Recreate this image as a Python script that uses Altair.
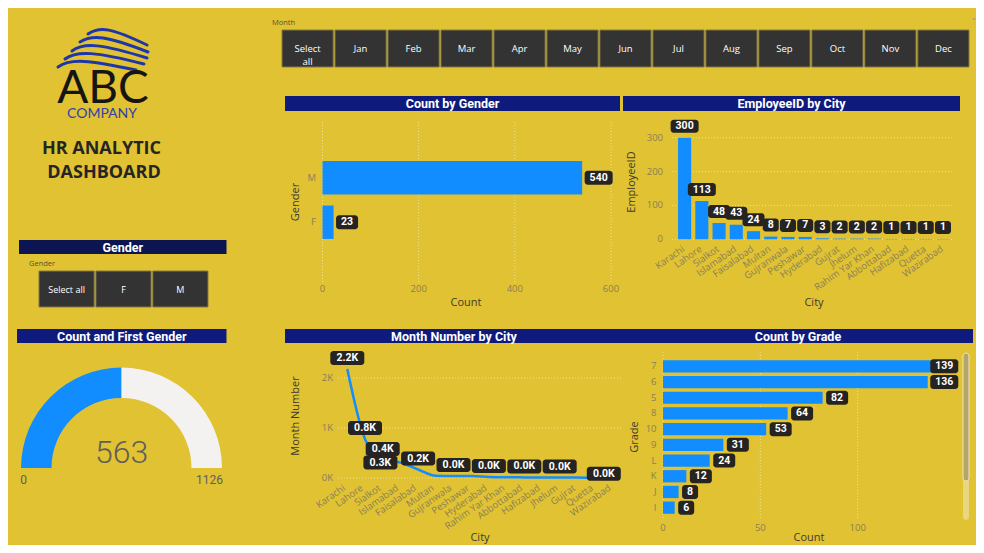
import altair as alt
import pandas as pd

# ---------------- values ----------------
month_buttons = ["Select all", "Jan", "Feb", "Mar", "Apr", "May", "Jun",
                 "Jul", "Aug", "Sep", "Oct", "Nov", "Dec"]
gender_buttons = ["Select all", "F", "M"]

gender_cats = ["M", "F"]
gender_counts = [540, 23]
gender_ticks = [0, 200, 400, 600]

emp_cities = ["Karachi", "Lahore", "Sialkot", "Islamabad", "Faisalabad", "Multan",
              "Gujranwala", "Peshawar", "Hyderabad", "Gujrat", "Jhelum",
              "Rahim Yar Khan", "Abbottabad", "Hafizabad", "Quetta", "Wazirabad"]
emp_counts = [300, 113, 48, 43, 24, 8, 7, 7, 3, 2, 2, 2, 1, 1, 1, 1]
emp_ticks = [0, 100, 200, 300]

month_cities = ["Karachi", "Lahore", "Sialkot", "Islamabad", "Faisalabad", "Multan",
                "Gujranwala", "Peshawar", "Hyderabad", "Rahim Yar Khan", "Abbottabad",
                "Hafizabad", "Jhelum", "Gujrat", "Quetta", "Wazirabad"]
month_sums = [2180, 780, 360, 310, 170, 45, 38, 40, 22, 15, 12, 9, 10, 8, 5, 4]
month_ticks = [0, 1000, 2000]
month_label_above = ["Karachi", "Lahore", "Sialkot", "Faisalabad", "Gujranwala",
                     "Hyderabad", "Abbottabad", "Jhelum"]
month_label_left = ["Islamabad"]
month_label_end = ["Wazirabad"]

grades = ["7", "6", "5", "8", "10", "9", "L", "K", "J", "I"]
grade_counts = [139, 136, 82, 64, 53, 31, 24, 12, 8, 6]
grade_ticks = [0, 50, 100]

gauge_value = 563
gauge_max = 1126

# ---------------- style ----------------
BG = "#E0C232"
NAVY = "#0E1B7C"
NAVY_DARK = "#0A1552"
BLUE = "#118DFF"
BOX = "#252423"
BTN = "#333333"
BTN_EDGE = "#857A45"
TICK = "#8A8058"
AXT = "#3E3A2F"
GRID = "#EEE2A0"
FONT = "Roboto"
UI = "Open Sans"

O = 8  # page margin


def P(v):
    return v - O


one = pd.DataFrame({"k": [0]})


def txt(s, x, y, size, color, weight="normal", align="center", baseline="middle",
        angle=0, font=UI):
    d = pd.DataFrame({"t": [s]})
    kw = dict(font=font, fontSize=size, color=color, fontWeight=weight,
              align=align, baseline=baseline)
    if angle:
        kw["angle"] = angle
    return alt.Chart(d).mark_text(**kw).encode(
        x=alt.value(P(x)), y=alt.value(P(y)), text="t:N")


def rect(x0, x1, y0, y1, color, **kw):
    return alt.Chart(one).mark_rect(color=color, **kw).encode(
        x=alt.value(P(x0)), x2=alt.value(P(x1)), y=alt.value(P(y0)), y2=alt.value(P(y1)))


def title_bar(s, x0, x1, y0, y1, color=NAVY):
    return [rect(x0, x1, y0, y1, color),
            txt(s, (x0 + x1) / 2, (y0 + y1) / 2 + 0.5, 12.5, "white", "bold", font=FONT)]


def box_w(n):
    return 10 + 6 * n


def hlabels(df, cat, val, xs, ys, pos_expr=None, off=3.5, h=14):
    out = []
    pos_expr = pos_expr or f"datum.{val}"
    for n in sorted({len(str(v)) for v in df[val]}):
        w = box_w(n)
        base = (alt.Chart(df)
                .transform_calculate(lbl=f"toString(datum.{val})", p=pos_expr)
                .transform_filter(f"length(datum.lbl) == {n}"))
        X = alt.X("p:Q", scale=xs, axis=None)
        Y = alt.Y(f"{cat}:N", scale=ys, axis=None)
        out.append(base.mark_bar(color=BOX, cornerRadius=3, height=h, xOffset=off,
                                 x2Offset=off + w).encode(x=X, x2=alt.X2("p"), y=Y))
        out.append(base.mark_text(font=FONT, fontSize=10.5, fontWeight="bold", color="white",
                                  dx=off + w / 2, baseline="middle")
                   .encode(x=X, y=Y, text="lbl:N"))
    return out


def vlabels(df, cat, val, xs, ys, lbl_expr, lengths, y0, y1, xo=0, names=None):
    out = []
    for n in lengths:
        w = box_w(n)
        base = alt.Chart(df).transform_calculate(lbl=lbl_expr)
        if names is not None:
            base = base.transform_filter(alt.FieldOneOfPredicate(field=cat, oneOf=names))
        base = base.transform_filter(f"length(datum.lbl) == {n}")
        X = alt.X(f"{cat}:N", scale=xs, axis=None)
        Y = alt.Y(f"{val}:Q", scale=ys, axis=None)
        out.append(base.mark_bar(color=BOX, cornerRadius=3, width=w, xOffset=xo,
                                 yOffset=y0, y2Offset=y1)
                   .encode(x=X, y=Y, y2=alt.Y2(val)))
        out.append(base.mark_text(font=FONT, fontSize=10.5, fontWeight="bold", color="white",
                                  baseline="middle", xOffset=xo, yOffset=(y0 + y1) / 2)
                   .encode(x=X, y=Y, text="lbl:N"))
    return out


layers = []

# ---------------- logo + title ----------------
wave_paths = []
cx, cy, half = 103.0, 49.0, 46.0
for sx, sy, ex, ey, crest in [(88, 34, 147, 45, 29), (80, 42, 148, 52, 37),
                              (72, 51, 147, 58, 45), (65, 59, 144, 64, 53),
                              (58, 67, 136, 70, 61)]:
    pts = [(sx, sy), (sx + 12, crest - 3), (sx + 0.4 * (ex - sx), crest - 1), (ex, ey)]
    n = [((x - cx) / half, (y - cy) / half) for x, y in pts]
    wave_paths.append("M{:.3f},{:.3f}C{:.3f},{:.3f} {:.3f},{:.3f} {:.3f},{:.3f}".format(
        *[c for p in n for c in p]))
layers.append(alt.Chart(one).mark_point(shape=" ".join(wave_paths), filled=False,
                                        stroke="#1F36A8", strokeWidth=3, opacity=1,
                                        size=(2 * half) ** 2, strokeCap="round")
              .encode(x=alt.value(P(cx)), y=alt.value(P(cy))))
layers.append(txt("ABC", 103, 102.5, 46, "#151515", baseline="alphabetic", font="Lato"))
layers.append(txt("COMPANY", 102, 118, 14, "#2F40B0", baseline="alphabetic", font="Lato"))
layers.append(txt("HR ANALYTIC", 101.5, 148.5, 18, "#252525", "bold"))
layers.append(txt("DASHBOARD", 104, 172.5, 18, "#252525", "bold"))

# ---------------- month slicer ----------------
layers.append(txt("Month", 272, 23, 7.5, "#5A5230", align="left"))
layers.append(txt("\u02c5", 974, 22, 9, "#9A9070", font="DejaVu Sans"))
mdf = pd.DataFrame({"m": month_buttons})
mx = alt.X("m:N", sort=month_buttons, axis=None,
           scale=alt.Scale(domain=month_buttons, range=[P(282), P(969)],
                           paddingInner=0.033, paddingOuter=0))
layers.append(alt.layer(
    alt.Chart(mdf).mark_rect(color=BTN, stroke=BTN_EDGE, strokeWidth=1)
    .encode(x=mx, y=alt.value(P(30)), y2=alt.value(P(67))),
    alt.Chart(mdf).mark_text(font=UI, fontSize=9.5, color="white", lineBreak=" ",
                             lineHeight=13, baseline="middle")
    .encode(x=mx, y=alt.value(P(49)), text="m:N"),
))

# ---------------- gender slicer ----------------
layers += title_bar("Gender", 19, 226.5, 240, 254, NAVY_DARK)
layers.append(txt("Gender", 29, 264, 7.5, "#5A5230", align="left"))
gbdf = pd.DataFrame({"g": gender_buttons})
gbx = alt.X("g:N", sort=gender_buttons, axis=None,
            scale=alt.Scale(domain=gender_buttons, range=[P(39), P(208)],
                            paddingInner=0.03, paddingOuter=0))
layers.append(alt.layer(
    alt.Chart(gbdf).mark_rect(color=BTN, stroke=BTN_EDGE, strokeWidth=1)
    .encode(x=gbx, y=alt.value(P(271)), y2=alt.value(P(307))),
    alt.Chart(gbdf).mark_text(font=UI, fontSize=9, color="white", baseline="middle")
    .encode(x=gbx, y=alt.value(P(290)), text="g:N"),
))

# ---------------- gauge ----------------
layers += title_bar("Count and First Gender", 17, 226.5, 329, 343)
gdf = pd.DataFrame({"part": ["value", "rest"],
                    "v": [gauge_value, gauge_max - gauge_value], "o": [0, 1]})
layers.append(alt.Chart(gdf).mark_arc(innerRadius=70, outerRadius=100.5).encode(
    theta=alt.Theta("v:Q", stack=True,
                    scale=alt.Scale(domain=[0, gauge_max], range=[4.712389, 7.853982])),
    color=alt.Color("part:N", scale=alt.Scale(domain=["value", "rest"],
                                              range=[BLUE, "#F3F2F1"]), legend=None),
    order=alt.Order("o:Q"),
    x=alt.value(P(121.5)), y=alt.value(P(468))))
layers.append(txt(str(gauge_value), 121.5, 463, 32, "#605E5C", 300,
                  baseline="alphabetic", font=FONT))
layers.append(txt("0", 23.5, 480, 12, "#605E5C", font=FONT))
layers.append(txt(str(gauge_max), 209.5, 480, 12, "#605E5C", font=FONT))

# ---------------- Count by Gender ----------------
layers += title_bar("Count by Gender", 285, 620, 96, 111)
gd = pd.DataFrame({"g": gender_cats, "c": gender_counts})
gxs = alt.Scale(domain=[0, 600], range=[P(322.5), P(611)])
gys = alt.Scale(domain=gender_cats, range=[P(155.5), P(244.5)],
                paddingInner=0.25, paddingOuter=0.125)
gt = pd.DataFrame({"t": gender_ticks})
layers.append(alt.layer(
    alt.Chart(gt).mark_rule(color=GRID, strokeDash=[1, 2])
    .encode(x=alt.X("t:Q", scale=gxs, axis=None), y=alt.value(P(122)), y2=alt.value(P(283))),
    alt.Chart(gt).mark_text(font=UI, fontSize=9.5, color=TICK, baseline="middle")
    .encode(x=alt.X("t:Q", scale=gxs, axis=None), y=alt.value(P(288.5)), text="t:Q"),
    alt.Chart(gd).mark_bar(color=BLUE)
    .encode(x=alt.X("c:Q", scale=gxs, axis=None), y=alt.Y("g:N", scale=gys, axis=None)),
    alt.Chart(gd).mark_text(font=UI, fontSize=9.5, color=TICK, align="right", baseline="middle")
    .encode(x=alt.value(P(316)), y=alt.Y("g:N", scale=gys, axis=None), text="g:N"),
    *hlabels(gd, "g", "c", gxs, gys, off=2.5),
))
layers.append(txt("Count", 466, 303, 11, AXT))
layers.append(txt("Gender", 296, 202, 11, AXT, angle=270))

# ---------------- EmployeeID by City ----------------
layers += title_bar("EmployeeID by City", 623, 960, 96, 111)
ed = pd.DataFrame({"city": emp_cities, "n": emp_counts})
exs = alt.Scale(domain=emp_cities, range=[P(676), P(951.6)],
                paddingInner=0.24, paddingOuter=0.12)
eys = alt.Scale(domain=[0, 300], range=[P(239.3), P(137.7)])
et = pd.DataFrame({"t": emp_ticks})
layers.append(alt.layer(
    alt.Chart(et).mark_rule(color=GRID, strokeDash=[1, 2])
    .encode(y=alt.Y("t:Q", scale=eys, axis=None), x=alt.value(P(672)), x2=alt.value(P(954))),
    alt.Chart(et).mark_text(font=UI, fontSize=9.5, color=TICK, align="right", baseline="middle")
    .encode(y=alt.Y("t:Q", scale=eys, axis=None), x=alt.value(P(663)), text="t:Q"),
    alt.Chart(ed).mark_bar(color=BLUE)
    .encode(x=alt.X("city:N", scale=exs, axis=None), y=alt.Y("n:Q", scale=eys, axis=None)),
    alt.Chart(ed).mark_text(font=UI, fontSize=9.5, color=TICK, angle=325, align="right",
                            baseline="middle", xOffset=-1)
    .encode(x=alt.X("city:N", scale=exs, axis=None), y=alt.value(P(248)), text="city:N"),
    *vlabels(ed, "city", "n", exs, eys, "toString(datum.n)",
             sorted({len(str(v)) for v in emp_counts}), -18, -5),
))
layers.append(txt("City", 814, 303, 11, AXT))
layers.append(txt("EmployeeID", 632, 182, 11, AXT, angle=270))

# ---------------- Month Number by City ----------------
layers += title_bar("Month Number by City", 285, 623, 329, 343)
md = pd.DataFrame({"city": month_cities, "v": month_sums})
mxs = alt.Scale(domain=month_cities, range=[P(338.45), P(621.65)],
                paddingInner=0, paddingOuter=0)
mys = alt.Scale(domain=[0, 2500], range=[P(478), P(353)])
mt = pd.DataFrame({"t": month_ticks})
lbl_expr = "format(datum.v / 1000, '.1f') + 'K'"
layers.append(alt.layer(
    alt.Chart(mt).mark_rule(color=GRID, strokeDash=[1, 2])
    .encode(y=alt.Y("t:Q", scale=mys, axis=None), x=alt.value(P(338)), x2=alt.value(P(621))),
    alt.Chart(mt).transform_calculate(lbl="format(datum.t / 1000, 'd') + 'K'")
    .mark_text(font=UI, fontSize=9.5, color=TICK, align="right", baseline="middle")
    .encode(y=alt.Y("t:Q", scale=mys, axis=None), x=alt.value(P(333)), text="lbl:N"),
    alt.Chart(md).mark_line(color=BLUE, strokeWidth=2.5, interpolate="monotone")
    .encode(x=alt.X("city:N", scale=mxs, axis=None, sort=month_cities),
            y=alt.Y("v:Q", scale=mys, axis=None)),
    alt.Chart(md).mark_text(font=UI, fontSize=9.5, color=TICK, angle=325, align="right",
                            baseline="middle", xOffset=-3)
    .encode(x=alt.X("city:N", scale=mxs, axis=None), y=alt.value(P(487)), text="city:N"),
    *vlabels(md, "city", "v", mxs, mys, lbl_expr, [4], -18, -4, names=month_label_above),
    *vlabels(md, "city", "v", mxs, mys, lbl_expr, [4], -7, 7, xo=-20, names=month_label_left),
    *vlabels(md, "city", "v", mxs, mys, lbl_expr, [4], -11, 3, xo=-9, names=month_label_end),
))
layers.append(txt("City", 480, 538, 11, AXT))
layers.append(txt("Month Number", 296, 416, 11, AXT, angle=270))

# ---------------- Count by Grade ----------------
layers += title_bar("Count by Grade", 623, 973, 329, 343)
grd = pd.DataFrame({"gr": grades, "c": grade_counts})
rxs = alt.Scale(domain=[0, 150], range=[P(663), P(955)])
rys = alt.Scale(domain=grades, range=[P(358.5), P(515.5)], paddingInner=0.22, paddingOuter=0.11)
rt = pd.DataFrame({"t": grade_ticks})
layers.append(alt.layer(
    alt.Chart(rt).mark_rule(color=GRID, strokeDash=[1, 2])
    .encode(x=alt.X("t:Q", scale=rxs, axis=None), y=alt.value(P(352)), y2=alt.value(P(520))),
    alt.Chart(rt).mark_text(font=UI, fontSize=9.5, color=TICK, baseline="middle")
    .encode(x=alt.X("t:Q", scale=rxs, axis=None), y=alt.value(P(528)), text="t:Q"),
    alt.Chart(grd).mark_bar(color=BLUE)
    .encode(x=alt.X("c:Q", scale=rxs, axis=None), y=alt.Y("gr:N", scale=rys, axis=None)),
    alt.Chart(grd).mark_text(font=UI, fontSize=9.5, color=TICK, align="right", baseline="middle")
    .encode(x=alt.value(P(656.5)), y=alt.Y("gr:N", scale=rys, axis=None), text="gr:N"),
    *hlabels(grd, "gr", "c", rxs, rys, pos_expr="min(datum.c, 135.5)", off=3.5, h=14),
))
layers.append(rect(963, 969, 353, 520, "#E9D67E", cornerRadius=3))
layers.append(rect(963, 969, 353, 481, "#B3A66C", cornerRadius=3, stroke="#EFE6B8",
                   strokeWidth=1))
layers.append(txt("Count", 809, 538, 11, AXT))
layers.append(txt("Grade", 635, 437, 11, AXT, angle=270))

chart = (alt.layer(*layers)
         .resolve_scale(x="independent", y="independent", color="independent",
                        theta="independent")
         .properties(width=968, height=537, padding=0, autosize="none", background=BG)
         .configure_view(stroke=None))

chart.save("out.html", embed_options={"renderer": "svg", "actions": False})
